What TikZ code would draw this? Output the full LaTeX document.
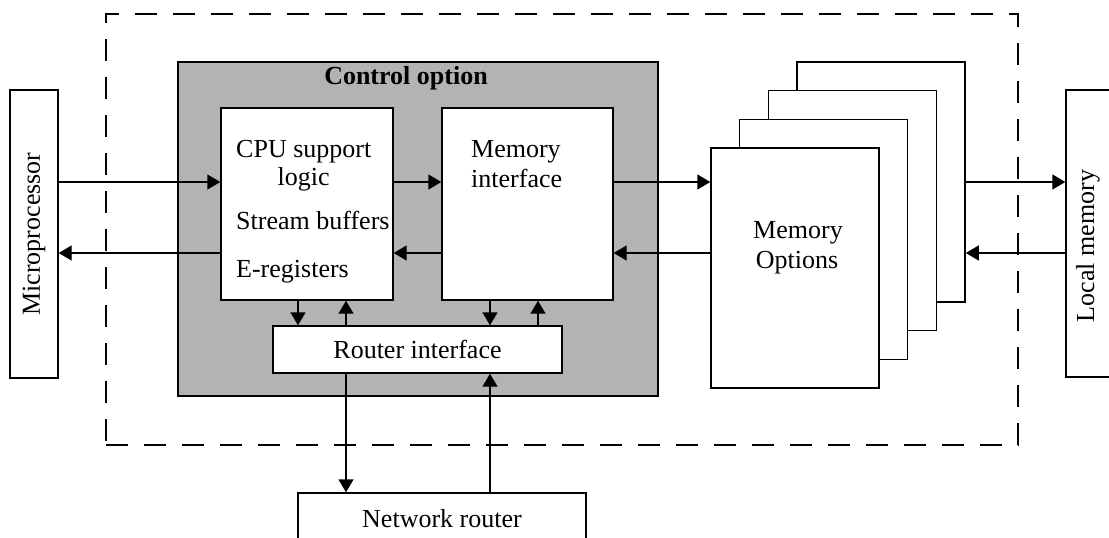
\documentclass[tikz,border=0pt]{standalone}
\usepackage{fontspec}
\setmainfont{Liberation Serif}
\usetikzlibrary{arrows.meta,positioning}
\definecolor{ctrlgray}{RGB}{179,179,179}
\tikzset{
    blk/.style={draw, fill=white, inner sep=0pt, line width=1.4pt},
    ctrlbox/.style={draw, fill=ctrlgray, inner sep=0pt, line width=1.4pt},
    outline/.style={draw, dash pattern=on 22pt off 16pt, line width=1.4pt, inner sep=0pt},
    txt/.style={anchor=base west, inner sep=0pt},
    ctxt/.style={anchor=base, inner sep=0pt},
    arr/.style={-{Triangle[length=13pt,width=15pt]}, line width=1.4pt},
}

\begin{document}
\begin{tikzpicture}[x=1pt,y=-1pt,font=\fontsize{26}{30}\selectfont]
            \useasboundingbox (0,0) rectangle (1109,538);
            % node boundary
            \node[outline, minimum width=912pt, minimum height=431pt] (board) at (562,229.5) {};
            % outside parts
            \node[blk, minimum width=48pt, minimum height=288pt] (micro) at (34,234) {};
            \node[rotate=90] (microtxt) at (micro.center) {Microprocessor};
            \node[blk, minimum width=48pt, minimum height=287pt] (local) at (1090,233.5) {};
            \node[rotate=90] (localtxt) at (1088,246) {Local memory};
            \node[blk, minimum width=288pt, minimum height=48pt] (net) at (442,517) {};
            \node[] (nettxt) at (442,519) {Network router};
            % control option
            \node[ctrlbox, minimum width=480pt, minimum height=334pt] (ctrl) at (418,229) {};
            \node[font=\fontsize{26}{30}\selectfont\bfseries] (ctrltitle) at (406,78) {Control option};
            \node[blk, minimum width=172pt, minimum height=192pt] (cpu) at (307,204) {};
            \node[txt] (cpusup) at (236,157) {CPU support};
            \node[ctxt] (logic) at ([yshift=-28pt]cpusup.base) {logic};
            \node[txt] (stream) at (236,229) {Stream buffers};
            \node[txt] (ereg) at (236,277) {E-registers};
            \node[blk, minimum width=171pt, minimum height=192pt] (memif) at (527.5,204) {};
            \node[txt] (memword) at (471,157) {Memory};
            \node[txt] (ifword) at (471,187) {interface};
            \node[blk, minimum width=289pt, minimum height=47pt] (router) at (417.5,349.5) {Router interface};
            % memory option cards, back to front
            \foreach \i in {3,2,1,0}
                \node[blk, minimum width=168pt, minimum height=240pt] (card\i) at ({795+28.7*\i},{268-28.7*\i}) {};
            \node[ctxt] (memopt) at (798,238) {Memory};
            \node[ctxt] (options) at (797,268) {Options};
            % data paths
            \coordinate (hi) at (0,182);
            \coordinate (lo) at (0,253);
            \draw[arr] (micro.east |- hi) -- (cpu.west |- hi);
            \draw[arr] (cpu.west |- lo) -- (micro.east |- lo);
            \draw[arr] (cpu.east |- hi) -- (memif.west |- hi);
            \draw[arr] (memif.west |- lo) -- (cpu.east |- lo);
            \draw[arr] (memif.east |- hi) -- (card0.west |- hi);
            \draw[arr] (card0.west |- lo) -- (memif.east |- lo);
            \draw[arr] (card3.east |- hi) -- (local.west |- hi);
            \draw[arr] (local.west |- lo) -- (card3.east |- lo);
            \coordinate (cpudn) at (298,0);
            \coordinate (cpuup) at (346,0);
            \coordinate (memdn) at (490,0);
            \coordinate (memup) at (538,0);
            \draw[arr] (cpu.south -| cpudn) -- (router.north -| cpudn);
            \draw[arr] (router.north -| cpuup) -- (cpu.south -| cpuup);
            \draw[arr] (memif.south -| memdn) -- (router.north -| memdn);
            \draw[arr] (router.north -| memup) -- (memif.south -| memup);
            \draw[arr] (router.south -| cpuup) -- (net.north -| cpuup);
            \draw[arr] (net.north -| memdn) -- (router.south -| memdn);
        \end{tikzpicture}
\end{document}
